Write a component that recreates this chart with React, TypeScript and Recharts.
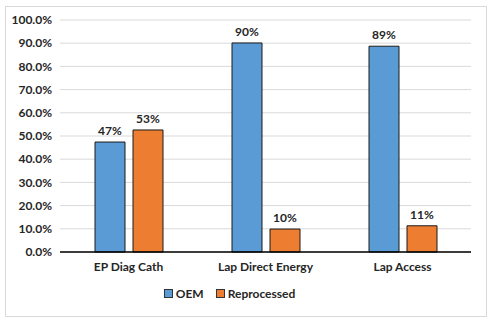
import React from 'react';
import { BarChart, Bar, XAxis, YAxis, CartesianGrid, Legend, LabelList } from 'recharts';

const categories = ['EP Diag Cath', 'Lap Direct Energy', 'Lap Access'];
const oemValues = [0.474, 0.901, 0.887];
const reprocessedValues = [0.526, 0.099, 0.113];
const yTicks = [0, 0.1, 0.2, 0.3, 0.4, 0.5, 0.6, 0.7, 0.8, 0.9, 1.0];

const data = categories.map((name, i) => ({
  name,
  oem: oemValues[i],
  reprocessed: reprocessedValues[i],
}));

const FONT = 'Lato, "Liberation Sans", sans-serif';
const TEXT = '#262626';
const textStyle = { fill: TEXT, fontSize: 12, fontWeight: 700, fontFamily: FONT };

const legendItems = [
  { label: 'OEM', color: '#5B9BD5' },
  { label: 'Reprocessed', color: '#ED7D31' },
];

function LegendContent() {
  return (
    <div style={{ display: 'flex', justifyContent: 'center', alignItems: 'center', paddingTop: 4, fontFamily: FONT, fontSize: 12, fontWeight: 700, color: TEXT }}>
      {legendItems.map(item => (
        <div key={item.label} style={{ display: 'flex', alignItems: 'center', marginRight: 12 }}>
          <span style={{ display: 'inline-block', width: 7, height: 7, background: item.color, border: '1px solid #333', marginRight: 3 }} />
          <span>{item.label}</span>
        </div>
      ))}
    </div>
  );
}

export default function App() {
  const pct = (v: number) => `${Math.round(v * 100)}%`;
  return (
    <div style={{ position: 'absolute', left: 0, top: 0, width: 491, height: 321, background: '#fff' }}>
      <div style={{ position: 'absolute', left: 5, top: 6, width: 480, height: 309, border: '1px solid #d9d9d9' }} />
      <div style={{ position: 'absolute', left: 0, top: 0 }}>
        <BarChart
          width={491}
          height={321}
          data={data}
          margin={{ top: 20, right: 20, left: 0, bottom: 20 }}
          barSize={30}
          barGap={8}
        >
          <CartesianGrid vertical={false} stroke="#d9d9d9" />
          <XAxis
            dataKey="name"
            height={30}
            tickLine={false}
            axisLine={{ stroke: '#000', strokeWidth: 1.5 }}
            tick={textStyle}
            tickMargin={4}
          />
          <YAxis
            width={60}
            domain={[0, 1]}
            ticks={yTicks}
            tickFormatter={(v: number) => `${(v * 100).toFixed(1)}%`}
            axisLine={false}
            tickLine={false}
            tick={textStyle}
          />
          <Legend verticalAlign="bottom" height={19} content={<LegendContent />} />
          <Bar dataKey="oem" name="OEM" fill="#5B9BD5" stroke="#1a1a1a" strokeWidth={1} isAnimationActive={false}>
            <LabelList dataKey="oem" position="top" offset={7} formatter={(v: number) => pct(v)} style={textStyle} />
          </Bar>
          <Bar dataKey="reprocessed" name="Reprocessed" fill="#ED7D31" stroke="#1a1a1a" strokeWidth={1} isAnimationActive={false}>
            <LabelList dataKey="reprocessed" position="top" offset={7} formatter={(v: number) => pct(v)} style={textStyle} />
          </Bar>
        </BarChart>
      </div>
    </div>
  );
}
